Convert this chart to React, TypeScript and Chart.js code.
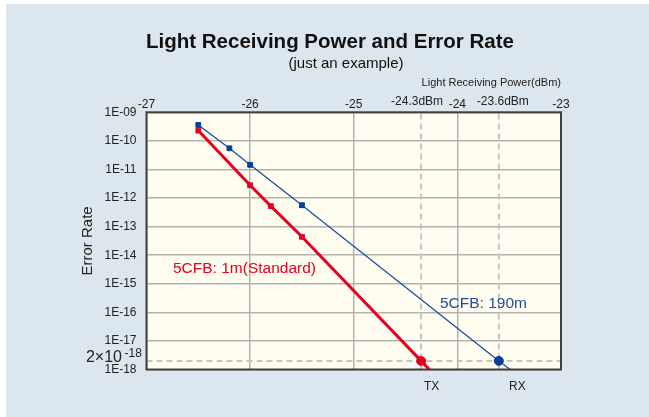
import { useEffect, useRef } from 'react';
import { Chart, registerables } from 'chart.js';

Chart.register(...registerables);

// ---- data ----
const xTickValues = [-27, -26, -25, -24, -23];
const yTickValues = [1e-18, 1e-17, 1e-16, 1e-15, 1e-14, 1e-13, 1e-12, 1e-11, 1e-10, 1e-9];
const yTickLabels = ['1E-18', '1E-17', '1E-16', '1E-15', '1E-14', '1E-13', '1E-12', '1E-11', '1E-10', '1E-09'];

// 5CFB: 1m (Standard)
const stdPower = [-26.5, -26.0, -25.8, -25.5, -24.35, -24.27];
const stdError = [2.3e-10, 2.8e-12, 5.2e-13, 4.4e-14, 2e-18, 1e-18];
// 5CFB: 190m
const longPower = [-26.5, -26.2, -26.0, -25.5, -23.6, -23.49];
const longError = [3.6e-10, 5.5e-11, 1.45e-11, 5.6e-13, 2e-18, 1e-18];

const txPower = -24.35;
const rxPower = -23.6;
const thresholdError = 2e-18;
const txPowerLabel = '-24.3dBm';
const rxPowerLabel = '-23.6dBm';

const FONT = "'Liberation Sans', Arial, Helvetica, sans-serif";
const RED = '#e60020';
const BLUE = '#1d4f9f';
const BLUE_MARK = '#0a3f95';

const decor = {
  id: 'decor',
  beforeDraw(chart: any) {
    const { ctx, chartArea: a } = chart;
    ctx.save();
    ctx.fillStyle = '#fffdf0';
    ctx.fillRect(a.left, a.top, a.right - a.left, a.bottom - a.top);
    ctx.restore();
  },
  beforeDatasetsDraw(chart: any) {
    const { ctx, chartArea: a, scales } = chart;
    const x = scales.x;
    const y = scales.y;
    ctx.save();
    ctx.beginPath();
    ctx.rect(a.left, a.top, a.right - a.left, a.bottom - a.top);
    ctx.clip();
    ctx.strokeStyle = '#c4c4c4';
    ctx.lineWidth = 2;
    ctx.setLineDash([6, 4]);
    for (const p of [txPower, rxPower]) {
      const px = x.getPixelForValue(p);
      ctx.beginPath();
      ctx.moveTo(px, a.bottom);
      ctx.lineTo(px, a.top);
      ctx.stroke();
    }
    const py = y.getPixelForValue(thresholdError);
    ctx.beginPath();
    ctx.moveTo(a.left, py);
    ctx.lineTo(a.right, py);
    ctx.stroke();
    ctx.restore();
  },
  afterDraw(chart: any) {
    const { ctx, chartArea: a, scales } = chart;
    const x = scales.x;
    ctx.save();
    // frame
    ctx.strokeStyle = '#404040';
    ctx.lineWidth = 2;
    ctx.strokeRect(a.left, a.top, a.right - a.left, a.bottom - a.top);

    ctx.textBaseline = 'alphabetic';
    // titles
    ctx.fillStyle = '#111';
    ctx.textAlign = 'center';
    ctx.font = `bold 20.5px ${FONT}`;
    ctx.fillText('Light Receiving Power and Error Rate', 324, 44);
    ctx.font = `15px ${FONT}`;
    ctx.fillText('(just an example)', 340, 63.5);

    // threshold power labels
    const txPx = x.getPixelForValue(txPower);
    const rxPx = x.getPixelForValue(rxPower);
    ctx.font = `12px ${FONT}`;
    ctx.fillStyle = '#222';
    ctx.fillText(txPowerLabel, txPx - 4, 100.5);
    ctx.fillText(rxPowerLabel, rxPx + 4, 100.5);

    // TX / RX
    ctx.fillText('TX', txPx + 10.5, 386);
    ctx.fillText('RX', rxPx + 18.5, 386);

    // 2x10^-18
    ctx.textAlign = 'right';
    ctx.font = `16px ${FONT}`;
    ctx.fillText('2×10', 116, 357.7);
    ctx.textAlign = 'left';
    ctx.font = `12px ${FONT}`;
    ctx.fillText('-18', 118.5, 352.7);

    // series labels
    ctx.font = `15.5px ${FONT}`;
    ctx.fillStyle = RED;
    ctx.fillText('5CFB: 1m(Standard)', 167, 269);
    ctx.fillStyle = BLUE;
    ctx.fillText('5CFB: 190m', 434, 304);
    ctx.restore();
  },
};

export default function App() {
  const ref = useRef<HTMLCanvasElement>(null);

  useEffect(() => {
    if (!ref.current) return;
    const n = stdPower.length;
    const stdStyles = stdPower.map((_, i) => (i === n - 2 ? 'circle' : 'rect'));
    const stdRadius = stdPower.map((_, i) => (i === n - 1 ? 0 : i === n - 2 ? 4.5 : 3.4));
    const m = longPower.length;
    const longStyles = longPower.map((_, i) => (i === m - 2 ? 'circle' : 'rect'));
    const longRadius = longPower.map((_, i) => (i === m - 1 ? 0 : i === m - 2 ? 4.5 : 3.4));

    const chart = new Chart(ref.current, {
      type: 'scatter',
      data: {
        datasets: [
          {
            label: '5CFB: 190m',
            data: longPower.map((p, i) => ({ x: p, y: longError[i] })),
            showLine: true,
            borderColor: BLUE,
            borderWidth: 1.3,
            backgroundColor: BLUE_MARK,
            pointBackgroundColor: BLUE_MARK,
            pointBorderColor: BLUE_MARK,
            pointBorderWidth: 1,
            pointStyle: longStyles as any,
            pointRadius: longRadius,
          },
          {
            label: '5CFB: 1m(Standard)',
            data: stdPower.map((p, i) => ({ x: p, y: stdError[i] })),
            showLine: true,
            borderColor: RED,
            borderWidth: 3,
            backgroundColor: RED,
            pointBackgroundColor: RED,
            pointBorderColor: RED,
            pointBorderWidth: 1,
            pointStyle: stdStyles as any,
            pointRadius: stdRadius,
          },
        ],
      },
      options: {
        responsive: false,
        animation: false,
        events: [],
        layout: { padding: { left: 72.8, top: 66, right: 88, bottom: 47.5 } },
        plugins: {
          legend: { display: false },
          tooltip: { enabled: false },
          title: { display: false },
        },
        scales: {
          x: {
            type: 'linear',
            position: 'top',
            min: -27,
            max: -23,
            afterBuildTicks: (s: any) => {
              s.ticks = xTickValues.map((v) => ({ value: v }));
            },
            afterFit: (s: any) => {
              s.height = 42.3;
            },
            ticks: {
              padding: 0.5,
              color: '#222',
              font: { family: FONT, size: 12 },
              callback: (v: any) => String(v),
              maxRotation: 0,
            },
            grid: { color: '#b2b2b2', lineWidth: 1.5, drawTicks: false },
            border: { display: false },
            title: {
              display: true,
              text: 'Light Receiving Power(dBm)',
              align: 'end',
              color: '#222',
              font: { family: FONT, size: 11 },
              padding: { top: 6.5, bottom: 0 },
            },
          },
          y: {
            type: 'logarithmic',
            min: 1e-18,
            max: 1e-9,
            afterBuildTicks: (s: any) => {
              s.ticks = yTickValues.map((v) => ({ value: v }));
            },
            afterFit: (s: any) => {
              s.width = 67.7;
            },
            ticks: {
              padding: 10,
              color: '#222',
              font: { family: FONT, size: 12 },
              callback: (_v: any, i: number) => yTickLabels[i],
            },
            grid: { color: '#b2b2b2', lineWidth: 1.5, drawTicks: false },
            border: { display: false },
            title: {
              display: true,
              text: 'Error Rate',
              color: '#222',
              font: { family: FONT, size: 15 },
              padding: { top: 0, bottom: 0 },
            },
          },
        },
      },
      plugins: [decor],
    });
    return () => chart.destroy();
  }, []);

  return (
    <div
      style={{
        position: 'fixed',
        left: 6,
        top: 4,
        width: 643,
        height: 413,
        background: '#dce6ee',
      }}
    >
      <canvas ref={ref} width={643} height={413} style={{ display: 'block' }} />
    </div>
  );
}
